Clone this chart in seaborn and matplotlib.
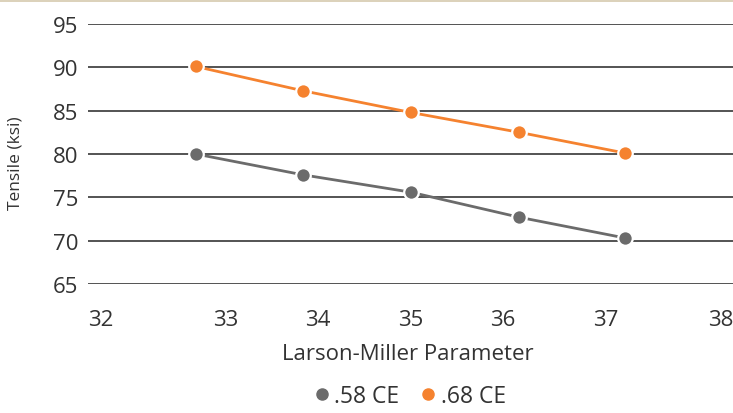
import numpy as np
import pandas as pd
import matplotlib
matplotlib.use("Agg")
import matplotlib.pyplot as plt
from matplotlib.lines import Line2D
from matplotlib.patches import Rectangle
import seaborn as sns

# Larson-Miller parameter readings and tensile strength (ksi) per carbon-equivalent grade
lmp = [32.76, 33.84, 35.0, 36.16, 37.17]
tensile_58 = [80.0, 77.6, 75.6, 72.7, 70.3]
tensile_68 = [90.1, 87.3, 84.8, 82.5, 80.1]
series_names = [".58 CE", ".68 CE"]
series_colors = ["#6b6b6b", "#f5822f"]

x_ticks = [32, 33, 34, 35, 36, 37, 38]
y_ticks = [65, 70, 75, 80, 85, 90, 95]

# Axis tick labels sit at uneven spacing along the horizontal axis
tick_anchor_vals = [31, 32, 33, 34, 35, 36, 37, 38, 39]
tick_anchor_pos = [-24.2, 100.8, 225.8, 317.4, 410.5, 502.7, 606.0, 720.5, 835.0]


def fwd(v):
    return np.interp(v, tick_anchor_vals, tick_anchor_pos)


def inv(p):
    return np.interp(p, tick_anchor_pos, tick_anchor_vals)


df = pd.DataFrame({
    "LMP": lmp * 2,
    "Tensile": tensile_58 + tensile_68,
    "Grade": [series_names[0]] * len(lmp) + [series_names[1]] * len(lmp),
})

sns.set_theme(style="white")
plt.rcParams["font.family"] = ["Open Sans", "DejaVu Sans"]
text_color = "#333333"

W, H = 733, 414
LEFT, TOP, BOTTOM = 88, 25, 285
fig = plt.figure(figsize=(W / 100, H / 100), dpi=100)
ax = fig.add_axes([LEFT / W, (H - BOTTOM) / H, (W - LEFT) / W, (BOTTOM - TOP) / H])

# thin tan band along the top edge
fig.patches.append(Rectangle((0, 1 - 3 / H), 1, 3 / H, transform=fig.transFigure,
                             facecolor="#dcd2bb", edgecolor="none", zorder=0))

ax.set_xscale("function", functions=(fwd, inv))

sns.lineplot(data=df, x="LMP", y="Tensile", hue="Grade", hue_order=series_names,
             palette=series_colors, marker="o", markersize=10.5,
             markeredgecolor="white", markeredgewidth=1.6, linewidth=2.0,
             legend=False, ax=ax, zorder=3)
for ln in ax.lines:
    ln.set_clip_on(False)

ax.set_xlim(inv(float(LEFT)), inv(float(W)))
ax.set_ylim(65, 95)
ax.set_xticks(x_ticks)
ax.set_xticklabels([str(t) for t in x_ticks])
ax.set_yticks(y_ticks)
ax.set_yticklabels([str(t) for t in y_ticks])
ax.xaxis.set_minor_locator(matplotlib.ticker.NullLocator())

ax.grid(axis="y", color="#454545", linewidth=1.3)
ax.grid(axis="x", visible=False)
ax.set_axisbelow(True)
for s in ax.spines.values():
    s.set_visible(False)
ax.tick_params(axis="both", length=0, labelsize=16, colors=text_color)
ax.tick_params(axis="y", pad=7)
ax.tick_params(axis="x", pad=18)

ax.set_xlabel("Larson-Miller Parameter", fontsize=16, color=text_color)
ax.set_ylabel("Tensile (ksi)", fontsize=12.5, color=text_color)
ax.xaxis.set_label_coords((408 - LEFT) / (W - LEFT), (BOTTOM - 355) / (BOTTOM - TOP),
                          transform=ax.transAxes)
ax.xaxis.label.set_va("center")
ax.yaxis.set_label_coords((16 - LEFT) / (W - LEFT), (BOTTOM - 163) / (BOTTOM - TOP),
                          transform=ax.transAxes)
ax.yaxis.label.set_va("center")

handles = [Line2D([], [], linestyle="", marker="o", markersize=8, color=c,
                  markeredgecolor=c) for c in series_colors]
fig.legend(handles, series_names, loc="center", bbox_to_anchor=(408 / W, 1 - 397 / H),
           ncol=2, frameon=False, fontsize=16.5, handletextpad=0.05, columnspacing=0.75,
           labelcolor=text_color, handlelength=1.0)

fig.savefig("out.png", dpi=100, facecolor="white")
